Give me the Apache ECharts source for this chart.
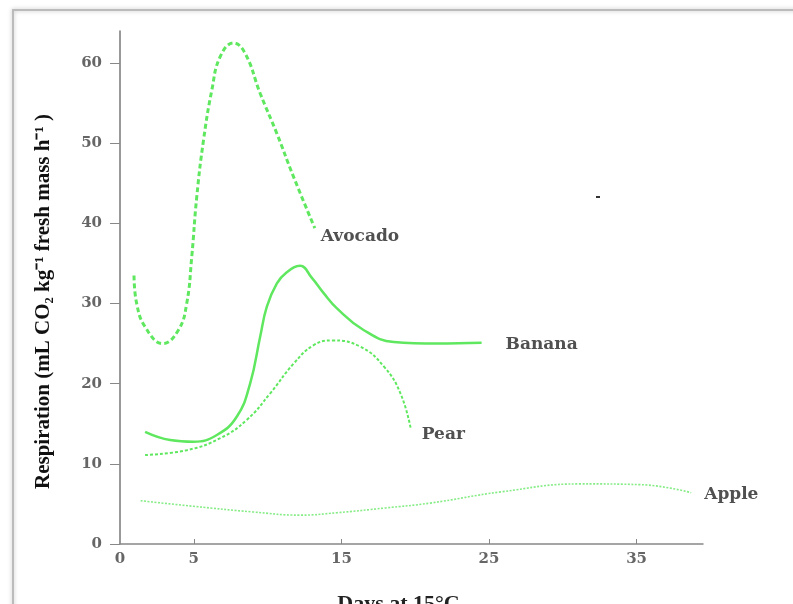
<!DOCTYPE html>
<html>
<head>
<meta charset="utf-8">
<script src="https://cdn.jsdelivr.net/npm/echarts@6/dist/echarts.min.js"></script>
<style>html,body{margin:0;padding:0;background:#fff}#c{width:793px;height:604px}</style>
</head>
<body>
<div id="c"></div>
<script>
// Data
const xTicks = [0, 5, 15, 25, 35];
const yTicks = [0, 10, 20, 30, 40, 50, 60];

const avocadoDays = [0.95, 1.13, 1.7, 2.9, 3.96, 4.52, 4.86, 5.2, 5.66, 6.22, 6.79, 7.69, 8.48, 9.5, 10.63, 11.76, 13.2];
const avocadoResp = [33.5, 30.0, 27.1, 25.0, 26.7, 30.0, 35.8, 43.3, 50.4, 56.6, 60.8, 62.5, 61.2, 56.2, 51.2, 45.8, 39.4];

const bananaDays = [1.7, 3.4, 4.98, 6.56, 7.92, 8.82, 9.5, 9.95, 10.63, 11.3, 12.2, 13.0, 13.8, 14.7, 16.5, 18.55, 21.5, 24.5];
const bananaResp = [14.0, 12.97, 12.75, 13.6, 15.9, 20.05, 25.9, 29.6, 32.5, 33.9, 34.7, 33.2, 31.3, 29.4, 26.7, 25.2, 25.0, 25.1];

const pearDays = [1.7, 4.52, 6.79, 8.6, 10.18, 11.76, 13.12, 14.37, 16.3, 17.9, 19.0, 19.7];
const pearResp = [11.1, 11.7, 13.2, 15.5, 18.8, 22.5, 24.8, 25.4, 24.6, 22.1, 18.8, 14.4];

const appleDays = [1.4, 5, 9, 12.2, 14.7, 18, 21, 25.8, 31.2, 35.3, 38.7];
const appleResp = [5.4, 4.7, 4.0, 3.6, 3.9, 4.5, 5.1, 6.5, 7.5, 7.4, 6.4];

const zip = (a, b) => a.map((v, i) => [v, b[i]]);
const green = '#5fe85f';
const labelFont = {fontFamily: 'DejaVu Serif', fontWeight: 'bold', fontSize: 17, color: '#505050'};

const chart = echarts.init(document.getElementById('c'), null, {renderer: 'canvas'});
function mkSeries(name, days, resp, lineStyle, offset) {
  return {
    name, type: 'line', data: zip(days, resp), smooth: 0.45,
    showSymbol: false, symbol: 'none',
    lineStyle: Object.assign({color: green}, lineStyle),
    endLabel: Object.assign({show: true, formatter: name, offset}, labelFont),
    animation: false
  };
}
chart.setOption({
  animation: false,
  backgroundColor: '#fff',
  grid: {left: 120, right: 90, top: 31, bottom: 60, containLabel: false, outerBoundsMode: 'none'},
  xAxis: {
    type: 'value', min: 0, max: 39.5,
    name: 'Days at 15°C', nameLocation: 'middle', nameGap: 49,
    nameTextStyle: {fontFamily: 'Liberation Serif', fontWeight: 'bold', fontSize: 22, color: '#222', padding: [0, 26, 0, 0]},
    axisLine: {lineStyle: {color: '#888', width: 1.5}},
    axisTick: {show: true, inside: true, length: 5, customValues: xTicks.slice(1), lineStyle: {color: '#888'}},
    axisLabel: {customValues: xTicks, fontFamily: 'DejaVu Serif', fontWeight: 'bold', fontSize: 15, color: '#666', margin: 8},
    splitLine: {show: false}
  },
  yAxis: {
    type: 'value', min: 0, max: 64,
    name: 'Respiration (mL CO₂ kg⁻¹ fresh mass h⁻¹ )', nameLocation: 'middle', nameGap: 66, nameRotate: 90,
    nameTextStyle: {fontFamily: 'Liberation Serif', fontWeight: 'bold', fontSize: 21, color: '#111', padding: [0, 28, 0, 0]},
    axisLine: {show: true, lineStyle: {color: '#777', width: 1.5}},
    axisTick: {show: true, length: 10, customValues: yTicks, lineStyle: {color: '#888'}},
    axisLabel: {customValues: yTicks, fontFamily: 'DejaVu Serif', fontWeight: 'bold', fontSize: 15, color: '#666', margin: 18},
    splitLine: {show: false}
  },
  graphic: [
    {type: 'rect', shape: {x: 13, y: 10, width: 800, height: 620}, style: {fill: 'none', stroke: '#bbb', lineWidth: 2, shadowBlur: 4, shadowColor: 'rgba(0,0,0,0.25)'}, silent: true, z: -1},
    {type: 'rect', shape: {x: 596, y: 196, width: 4, height: 2}, style: {fill: '#333'}, silent: true}
  ],
  series: [
    mkSeries('Avocado', avocadoDays, avocadoResp, {width: 3, type: [5, 3]}, [-2, 8]),
    mkSeries('Banana', bananaDays, bananaResp, {width: 2.5, type: 'solid'}, [16, 2]),
    mkSeries('Pear', pearDays, pearResp, {width: 2, type: [3, 2]}, [3, 6]),
    mkSeries('Apple', appleDays, appleResp, {width: 1.6, type: [2, 1.5], color: '#86ec86'}, [5, 2])
  ]
});
</script>
</body>
</html>
